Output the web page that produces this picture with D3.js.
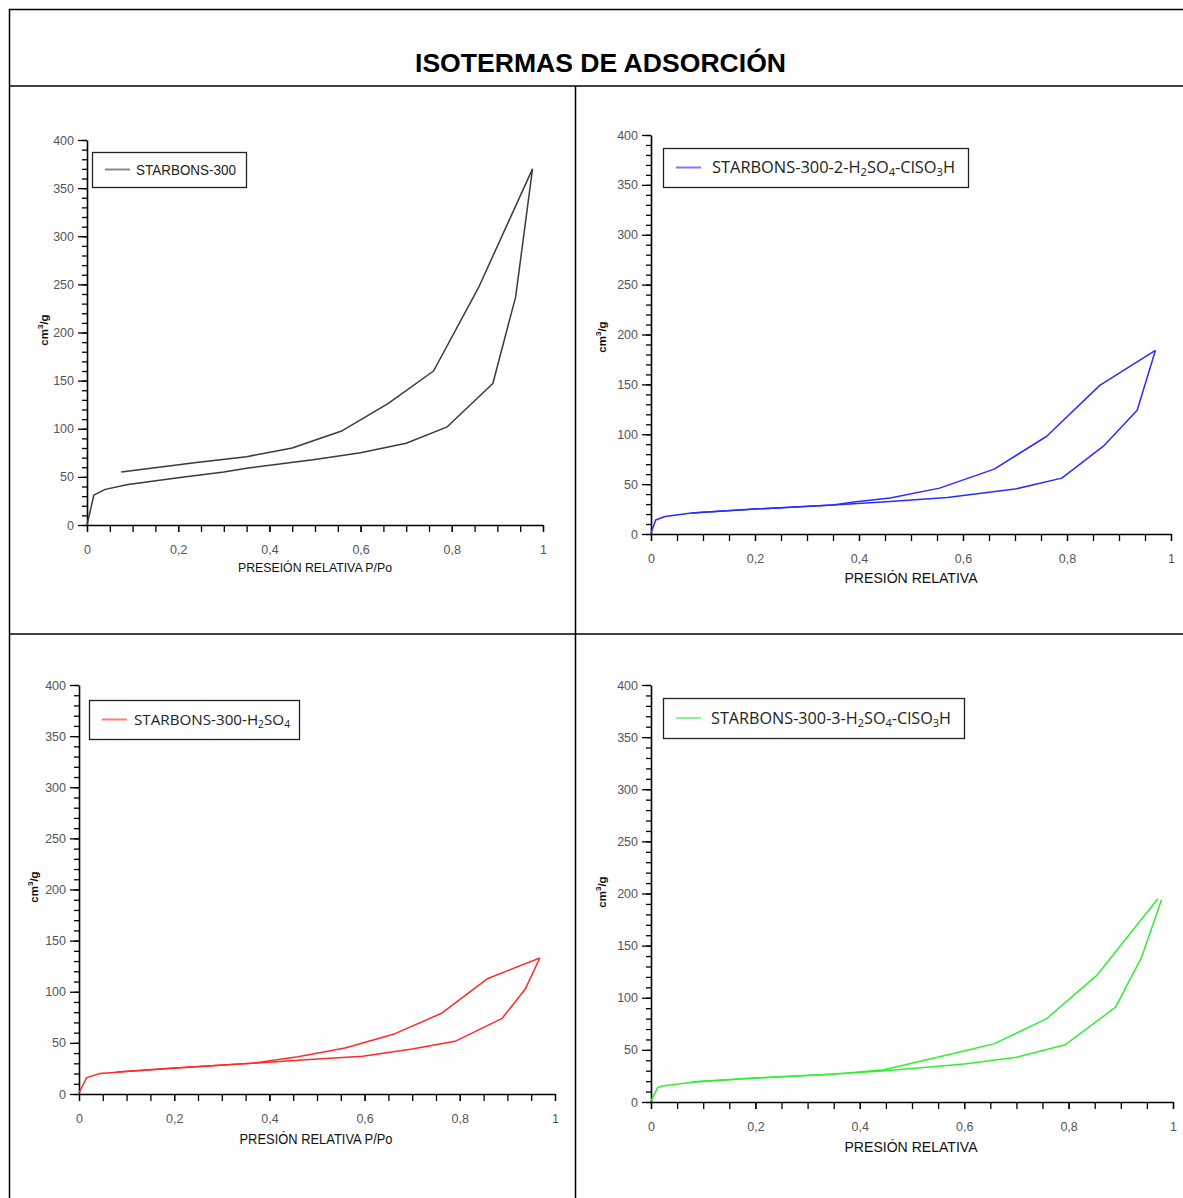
<!DOCTYPE html>
<html>
<head>
<meta charset="utf-8">
<script src="https://cdn.jsdelivr.net/npm/d3@7"></script>
<style>
  body { margin: 0; background: #fff; }
  svg { display: block; }
  .tick text { font-family: "Liberation Sans Narrow", "Arial Narrow", "Liberation Sans", sans-serif; font-size: 12.5px; fill: #555; }
</style>
</head>
<body>
<div id="container"></div>
<script>
"use strict";

const width = 1183;
const height = 1198;

const title = "ISOTERMAS DE ADSORCIÓN";

const xMajorTicks = [0, 0.2, 0.4, 0.6, 0.8, 1];
const yMajorTicks = [0, 50, 100, 150, 200, 250, 300, 350, 400];

// STARBONS-300
const s300AdsX = [0, 0.015, 0.04, 0.09, 0.2, 0.3, 0.35, 0.5, 0.6, 0.7, 0.79, 0.89, 0.94, 0.977];
const s300AdsY = [0, 31, 37, 42, 49, 55, 59, 68, 75, 85, 102, 147, 237, 370];
const s300DesX = [0.977, 0.86, 0.76, 0.66, 0.56, 0.45, 0.35, 0.24, 0.075];
const s300DesY = [370, 248, 160, 126, 98, 80, 71, 65, 55];

// STARBONS-300-2-H2SO4-ClSO3H
const s2AdsX = [0, 0.009, 0.027, 0.078, 0.2, 0.35, 0.46, 0.57, 0.7, 0.79, 0.87, 0.935, 0.97];
const s2AdsY = [1, 14, 17.5, 21, 25, 29, 32.5, 36.5, 45, 56, 88, 124, 184];
const s2DesX = [0.97, 0.863, 0.761, 0.66, 0.555, 0.46, 0.39, 0.35, 0.2, 0.078];
const s2DesY = [184, 149, 98, 65, 46, 36, 32, 29, 25, 21];

// STARBONS-300-H2SO4
const s1AdsX = [0, 0.016, 0.044, 0.1, 0.205, 0.363, 0.476, 0.596, 0.7, 0.79, 0.889, 0.938, 0.968];
const s1AdsY = [1, 16, 20, 22, 25.5, 30, 33.5, 37, 44, 51.5, 74, 103, 133];
const s1DesX = [0.968, 0.859, 0.762, 0.664, 0.559, 0.46, 0.363, 0.2, 0.08];
const s1DesY = [133, 113, 79, 59, 45, 36.5, 30, 25.5, 21.5];

// STARBONS-300-3-H2SO4-ClSO3H
const s3AdsX = [0, 0.013, 0.022, 0.079, 0.2, 0.345, 0.45, 0.6, 0.7, 0.794, 0.89, 0.94, 0.978];
const s3AdsY = [1, 14, 15.3, 19, 23, 26.5, 30, 36.5, 43, 55, 91, 139, 194];
const s3DesX = [0.971, 0.855, 0.758, 0.658, 0.6, 0.446, 0.345, 0.2, 0.079];
const s3DesY = [195, 122, 80, 56, 49, 31, 26.5, 23, 19.5];

const panels = [
  {
    name: [["STARBONS-300"]], color: "#3a3a3a", legendColor: "#8a8a8a",
    adsX: s300AdsX, adsY: s300AdsY, desX: s300DesX, desY: s300DesY,
    x0: 87, x1: 543, yBottom: 525, yTop: 140,
    legend: [92, 152, 154, 35], legendText: 136, legendLen: 100, legendFont: "Liberation Sans", legendSize: 14.5,
    xLabel: "PRESEIÓN RELATIVA P/Po", xLabelPos: [315, 572], xLabelLen: 154, xLabelSize: 13.5,
    yLabelPos: [48, 330],
  },
  {
    name: [["STARBONS-300-2-H"], ["2", true], ["SO"], ["4", true], ["-ClSO"], ["3", true], ["H"]],
    color: "#2b2bff", legendColor: "#7a7aff",
    adsX: s2AdsX, adsY: s2AdsY, desX: s2DesX, desY: s2DesY,
    x0: 651, x1: 1171, yBottom: 534, yTop: 135,
    legend: [663, 148, 305, 39], legendText: 712, legendLen: 243, legendFont: "Open Sans", legendSize: 16,
    xLabel: "PRESIÓN RELATIVA", xLabelPos: [911, 583], xLabelLen: 133, xLabelSize: 14.5,
    yLabelPos: [606, 337],
  },
  {
    name: [["STARBONS-300-H"], ["2", true], ["SO"], ["4", true]],
    color: "#ff2a2a", legendColor: "#ff7a7a",
    adsX: s1AdsX, adsY: s1AdsY, desX: s1DesX, desY: s1DesY,
    x0: 79, x1: 555, yBottom: 1094, yTop: 685,
    legend: [89, 700, 210, 39], legendText: 134, legendLen: null, legendFont: "Open Sans", legendSize: 15.2,
    xLabel: "PRESIÓN RELATIVA P/Po", xLabelPos: [316, 1144], xLabelLen: 153, xLabelSize: 14,
    yLabelPos: [38, 887],
  },
  {
    name: [["STARBONS-300-3-H"], ["2", true], ["SO"], ["4", true], ["-ClSO"], ["3", true], ["H"]],
    color: "#33ee33", legendColor: "#88f888",
    adsX: s3AdsX, adsY: s3AdsY, desX: s3DesX, desY: s3DesY,
    x0: 651, x1: 1173, yBottom: 1102, yTop: 685,
    legend: [663, 698, 301, 40], legendText: 711, legendLen: 240, legendFont: "Open Sans", legendSize: 16,
    xLabel: "PRESIÓN RELATIVA", xLabelPos: [911, 1152], xLabelLen: 133, xLabelSize: 14.5,
    yLabelPos: [606, 892],
  },
];

const svg = d3
  .select("#container")
  .append("svg")
  .attr("width", width)
  .attr("height", height);

// table frame
const frame = svg.append("g").attr("stroke", "#000").attr("stroke-width", 1.5);
frame.append("line").attr("x1", 9).attr("x2", width).attr("y1", 9.5).attr("y2", 9.5);
frame.append("line").attr("x1", 9).attr("x2", width).attr("y1", 86).attr("y2", 86);
frame.append("line").attr("x1", 9).attr("x2", width).attr("y1", 634).attr("y2", 634);
frame.append("line").attr("x1", 9.5).attr("x2", 9.5).attr("y1", 9).attr("y2", height);
frame.append("line").attr("x1", 575.5).attr("x2", 575.5).attr("y1", 86).attr("y2", height);

svg
  .append("text")
  .attr("x", 415)
  .attr("y", 72)
  .attr("textLength", 371)
  .attr("lengthAdjust", "spacingAndGlyphs")
  .style("font-family", "Liberation Sans, Arial, sans-serif")
  .style("font-weight", "bold")
  .style("font-size", "25px")
  .text(title);

const fmt = (d) => String(d).replace(".", ",");

panels.forEach((p) => {
  const g = svg.append("g");

  const xScale = d3.scaleLinear().domain([0, 1]).range([p.x0, p.x1]);
  const yScale = d3.scaleLinear().domain([0, 400]).range([p.yBottom, p.yTop]);

  // minor ticks
  g.append("g")
    .attr("transform", `translate(${p.x0}, 0)`)
    .call(d3.axisLeft(yScale).tickValues(d3.range(0, 401, 10)).tickSize(5).tickFormat(""))
    .call((a) => a.select(".domain").remove());
  g.append("g")
    .attr("transform", `translate(0, ${p.yBottom})`)
    .call(d3.axisBottom(xScale).tickValues(d3.range(0, 21).map((i) => i * 0.05)).tickSize(7).tickFormat(""))
    .call((a) => a.select(".domain").remove());

  // major ticks + labels
  g.append("g")
    .attr("transform", `translate(${p.x0}, 0)`)
    .call(d3.axisLeft(yScale).tickValues(yMajorTicks).tickSize(9).tickPadding(4).tickSizeOuter(0))
    .call((a) => a.select(".domain").attr("stroke-width", 1.6));
  g.append("g")
    .attr("transform", `translate(0, ${p.yBottom})`)
    .call(d3.axisBottom(xScale).tickValues(xMajorTicks).tickSize(7).tickPadding(13).tickSizeOuter(0).tickFormat(fmt))
    .call((a) => a.select(".domain").attr("stroke-width", 1.6));

  g.selectAll(".tick line").attr("stroke-width", 1.3);

  const line = d3
    .line()
    .x((d) => xScale(d[0]))
    .y((d) => yScale(d[1]));

  const ads = p.adsX.map((x, i) => [x, p.adsY[i]]);
  const des = p.desX.map((x, i) => [x, p.desY[i]]);

  [ads, des].forEach((pts) => {
    g.append("path")
      .datum(pts)
      .attr("d", line)
      .attr("fill", "none")
      .attr("stroke", p.color)
      .attr("stroke-width", 1.5)
      .attr("stroke-linejoin", "round");
  });

  // legend
  const [lx, ly, lw, lh] = p.legend;
  g.append("rect")
    .attr("x", lx + 0.5)
    .attr("y", ly + 0.5)
    .attr("width", lw)
    .attr("height", lh)
    .attr("fill", "#fff")
    .attr("stroke", "#222")
    .attr("stroke-width", 1.3);
  g.append("line")
    .attr("x1", lx + 13)
    .attr("x2", lx + 38)
    .attr("y1", ly + lh / 2)
    .attr("y2", ly + lh / 2)
    .attr("stroke", p.legendColor)
    .attr("stroke-width", 2);
  const lt = g
    .append("text")
    .attr("x", p.legendText)
    .attr("y", ly + lh / 2 + 5.5)
    .style("font-family", `"${p.legendFont}", "Liberation Sans", sans-serif`)
    .style("font-size", p.legendSize + "px")
    .attr("fill", "#222");
  if (p.legendLen) lt.attr("textLength", p.legendLen).attr("lengthAdjust", "spacingAndGlyphs");
  let down = false;
  p.name.forEach(([s, sub]) => {
    if (sub) {
      lt.append("tspan").attr("dy", 3).style("font-size", p.legendSize * 0.68 + "px").text(s);
      down = true;
    } else {
      lt.append("tspan").attr("dy", down ? -3 : 0).text(s);
      down = false;
    }
  });

  // axis titles
  g.append("text")
    .attr("x", p.xLabelPos[0] - p.xLabelLen / 2)
    .attr("y", p.xLabelPos[1])
    .attr("textLength", p.xLabelLen)
    .attr("lengthAdjust", "spacingAndGlyphs")
    .style("font-family", "Liberation Sans, Arial, sans-serif")
    .style("font-size", p.xLabelSize + "px")
    .attr("fill", "#111")
    .text(p.xLabel);

  const yl = g
    .append("text")
    .attr("text-anchor", "middle")
    .attr("transform", `translate(${p.yLabelPos[0]}, ${p.yLabelPos[1]}) rotate(-90)`)
    .style("font-family", "Liberation Sans, Arial, sans-serif")
    .style("font-size", "11.5px")
    .style("font-weight", "bold")
    .attr("fill", "#111");
  yl.append("tspan").text("cm");
  yl.append("tspan").attr("dy", -5).style("font-size", "8px").text("3");
  yl.append("tspan").attr("dy", 5).text("/g");
});
</script>
</body>
</html>
